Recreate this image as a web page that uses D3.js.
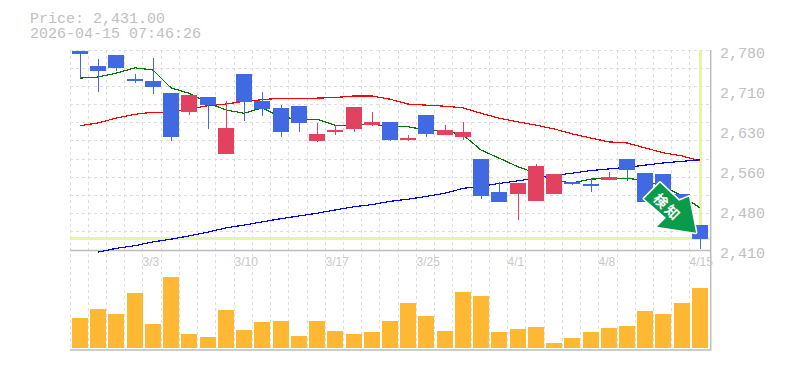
<!DOCTYPE html>
<html>
<head>
<meta charset="utf-8">
<script src="https://cdn.jsdelivr.net/npm/d3@7"></script>
<style>
    html, body { margin: 0; padding: 0; background: #fff; }
    svg { display: block; }
</style>
</head>
<body>
<script>
// Chart values
const dates = ["2/25","2/26","2/27","3/2","3/3","3/4","3/5","3/6","3/9","3/10","3/11","3/12","3/13","3/16","3/17","3/18","3/19","3/23","3/24","3/25","3/26","3/27","3/30","3/31","4/1","4/2","4/3","4/6","4/7","4/8","4/9","4/10","4/13","4/14","4/15"];
const xLabels = ["3/3","3/10","3/17","3/25","4/1","4/8","4/15"];

const open  = [2778,2750,2771,2726,2723,2700,2665,2693,2588,2736,2686,2673,2676,2612,2628,2634,2641,2647,2614,2660,2623,2619,2578,2517,2514,2501,2514,2536,2532,2540,2578,2552,2551,2514,2456];
const close = [2773,2741,2747,2723,2712,2619,2697,2678,2636,2684,2671,2628,2645,2625,2632,2675,2647,2614,2617,2625,2632,2628,2510,2499,2534,2565,2551,2532,2528,2545,2558,2499,2503,2475,2431];
const high  = [2778,2763,2771,2736,2765,2700,2697,2693,2686,2736,2702,2678,2676,2645,2641,2675,2665,2647,2623,2660,2641,2647,2578,2536,2534,2569,2551,2536,2543,2554,2578,2552,2551,2514,2456];
const low   = [2728,2702,2741,2719,2699,2612,2660,2634,2588,2649,2658,2619,2628,2610,2623,2628,2639,2612,2612,2619,2623,2614,2504,2499,2466,2501,2514,2530,2517,2540,2538,2499,2503,2475,2412];

const maShort = [2728,2730,2737,2747,2743,2710,2700,2682,2669,2663,2673,2656,2652,2652,2641,2641,2643,2638,2638,2632,2630,2623,2595,2580,2564,2552,2539,2534,2541,2543,2543,2538,2528,2510,2488];
const maMid   = [2640,2645,2654,2661,2665,2665,2671,2677,2680,2685,2688,2691,2691,2691,2692,2695,2695,2689,2680,2678,2676,2673,2663,2654,2647,2641,2634,2625,2617,2610,2608,2599,2590,2584,2575];
const maLong  = [null,2406,2413,2418,2425,2430,2436,2443,2451,2456,2462,2468,2473,2478,2484,2490,2494,2500,2504,2509,2515,2524,2528,2533,2538,2543,2548,2552,2557,2560,2563,2567,2571,2574,2577];

const volume = [300,390,340,550,240,710,140,110,380,180,260,270,120,270,170,140,160,270,450,320,170,560,520,160,190,210,50,100,160,200,220,370,340,450,600];

const priceTicks = [2780,2706,2632,2558,2484,2410];
const priceLabels = ["2,780","2,710","2,630","2,560","2,480","2,410"];
const lastPrice = 2431;
const headerLines = ["Price: 2,431.00","2026-04-15 07:46:26"];
const signalText = ["検","知"];

// Layout
const width = 785, height = 370;
const left = 71, right = 709.2;
const priceTop = 50, priceBottom = 250;
const volTop = 268, volBottom = 348;
const hGridCount = 11;
const barW = 16;
const mono = "'Liberation Mono', monospace";

const upColour = "#e2425f", downColour = "#4169e1";
const gridColour = "#dedede", axisColour = "#bcbcbc", textColour = "#c0c0c0", limeColour = "#e4f5a8";

const svg = d3.select("body").append("svg")
    .attr("width", width)
    .attr("height", height);

// Scales
const x = d3.scaleBand().domain(d3.range(dates.length)).range([left, right]);
const y = d3.scaleLinear().domain([2410, 2780]).range([priceBottom, priceTop]);
const v = d3.scaleLinear().domain([0, 800]).range([volBottom, volTop]);

const barLeft = (i) => Math.round(x(i)) + 1;
const candleX = (i) => barLeft(i) + barW/2;
const gridX = (i) => Math.floor(x(i) - 1) + 0.5;

// Grid
const grid = svg.append("g").attr("stroke", gridColour).attr("stroke-dasharray", "3,3").attr("shape-rendering", "crispEdges");
grid.selectAll(".v").data(d3.range(dates.length)).join("line")
    .attr("x1", gridX).attr("x2", gridX)
    .attr("y1", priceTop).attr("y2", volBottom + 2);
grid.selectAll(".h").data(d3.range(hGridCount)).join("line")
    .attr("x1", left - 1).attr("x2", right + 1)
    .attr("y1", (i) => Math.floor(priceTop + i*(priceBottom-priceTop)/hGridCount) + 0.5)
    .attr("y2", (i) => Math.floor(priceTop + i*(priceBottom-priceTop)/hGridCount) + 0.5);

// Highlight of the last price
svg.append("rect")
    .attr("x", left - 1).attr("width", right - left + 2)
    .attr("y", Math.round(y(lastPrice)) - 2).attr("height", 3)
    .attr("fill", limeColour);
svg.append("rect")
    .attr("x", candleX(dates.length-1) - 1).attr("width", 3)
    .attr("y", priceTop).attr("height", y(lastPrice) - priceTop)
    .attr("fill", limeColour);

// Axis lines
svg.append("path")
    .attr("d", `M${left-1},${priceBottom}.5H${right+1}`)
    .attr("stroke", axisColour).attr("stroke-width", 1.5).attr("fill", "none");
svg.append("path")
    .attr("d", `M${left-1},${volBottom+2}H${right+1.5}V${priceTop}`)
    .attr("stroke", axisColour).attr("stroke-width", 1.5).attr("fill", "none");

// Moving averages
const maLine = d3.line()
    .defined((d) => d !== null)
    .x((d, i) => candleX(i))
    .y((d) => y(d));
[[maMid, "#ff0000"], [maShort, "#007a00"], [maLong, "#0000ff"]].forEach(([data, colour]) => {
    svg.append("path")
        .datum(data)
        .attr("fill", "none")
        .attr("stroke", colour)
        .attr("stroke-width", 1.2)
        .attr("shape-rendering", "crispEdges")
        .attr("d", maLine);
});

// Candles
const candle = svg.append("g").selectAll("g").data(d3.range(dates.length)).join("g")
    .attr("fill", (i) => close[i] >= open[i] ? upColour : downColour);
candle.append("rect")
    .attr("x", candleX)
    .attr("width", 1)
    .attr("y", (i) => Math.round(y(high[i])))
    .attr("height", (i) => Math.round(y(low[i])) - Math.round(y(high[i])));
candle.append("rect")
    .attr("x", barLeft)
    .attr("width", barW)
    .attr("y", (i) => Math.round(y(Math.max(open[i], close[i]))))
    .attr("height", (i) => Math.round(y(Math.min(open[i], close[i]))) - Math.round(y(Math.max(open[i], close[i]))));

// Volume
svg.append("g").selectAll("rect").data(volume).join("rect")
    .attr("x", (d, i) => barLeft(i))
    .attr("width", barW)
    .attr("y", (d) => Math.round(v(d)))
    .attr("height", (d) => volBottom - Math.round(v(d)))
    .attr("fill", "#ffb833");

// Price axis, labels are rounded to tens
const priceAxis = d3.axisRight(y)
    .tickValues(priceTicks)
    .tickSize(0)
    .tickPadding(0)
    .tickFormat((d, i) => priceLabels[i]);
svg.append("g")
    .attr("transform", "translate(720,0)")
    .call(priceAxis)
    .call((g) => g.select(".domain").remove())
    .call((g) => g.selectAll("text")
        .attr("dy", "7px")
        .attr("fill", textColour)
        .attr("font-family", mono)
        .attr("font-size", 15));

// Date axis, labels start at the grid line of their day
const dateAxis = d3.axisBottom(x)
    .tickValues(xLabels.map((d) => dates.indexOf(d)))
    .tickSize(0)
    .tickFormat((i) => dates[i]);
svg.append("g")
    .attr("transform", `translate(0,${priceBottom})`)
    .call(dateAxis)
    .call((g) => g.select(".domain").remove())
    .call((g) => g.selectAll(".tick").attr("transform", (i) => `translate(${gridX(i)},0)`))
    .call((g) => g.selectAll("text")
        .attr("y", 7)
        .attr("dy", "0.71em")
        .attr("text-anchor", "start")
        .attr("fill", "#c8c8c8")
        .attr("font-family", "'Liberation Sans', sans-serif")
        .attr("font-size", 12));

// Header
svg.append("g").selectAll("text").data(headerLines).join("text")
    .attr("x", 30)
    .attr("y", (d, i) => 23 + i*15)
    .attr("fill", textColour)
    .attr("font-family", mono)
    .attr("font-size", 15)
    .text((d) => d);

// Signal arrow, placed relative to the last candle
const tipX = candleX(dates.length-1), tipY = y(lastPrice);
const arrowShape = [[-56,-40],[-40,-56],[-21,-38],[-11,-42],[-4,-6],[-43,-12],[-34,-21]];
const signal = svg.append("g").attr("transform", `translate(${tipX},${tipY})`);
signal.append("polygon")
    .attr("points", arrowShape.map((p) => p.join(",")).join(" "))
    .attr("fill", "#0a9b4a")
    .attr("stroke", "#fff")
    .attr("stroke-width", 3)
    .attr("stroke-linejoin", "round")
    .attr("paint-order", "stroke");
signal.selectAll("text").data(signalText).join("text")
    .attr("transform", (d, i) => `translate(${-38.5 + i*11.5},${-38.5 + i*11.5}) rotate(45)`)
    .attr("text-anchor", "middle")
    .attr("dominant-baseline", "central")
    .attr("fill", "#fff")
    .attr("font-family", "'Noto Sans CJK JP', sans-serif")
    .attr("font-weight", 700)
    .attr("font-size", 14)
    .text((d) => d);
</script>
</body>
</html>
